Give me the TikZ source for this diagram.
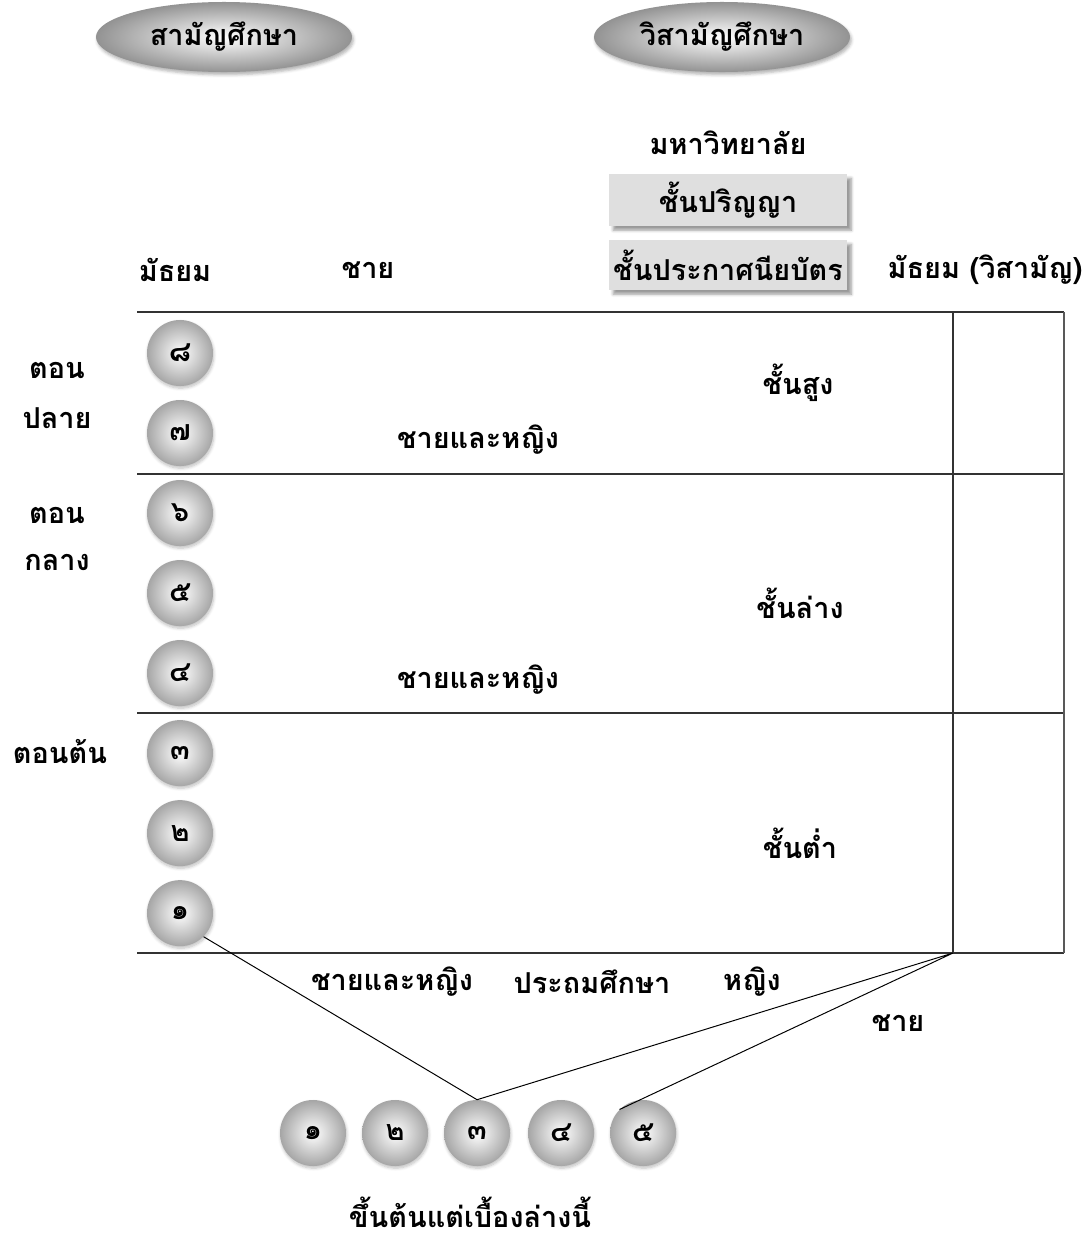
\documentclass[tikz,border=0pt]{standalone}
\usepackage{fontspec}
\setmainfont[Script=Thai]{Loma}
\usepackage{tikz}
\usetikzlibrary{positioning, shapes.geometric, shadows.blur}

\begin{document}
\begin{tikzpicture} [
	x=0.025cm, y=-0.025cm, % one unit is one pixel of the drawing
	node distance=2cm, % centre to centre distance of the year balls
	every node/.style={font=\fontsize{20.5}{24}\selectfont\bfseries},
	ball/.style={circle, minimum size=1.65cm, inner sep=0pt, shading=radial,
		inner color=white, outer color=gray!70,
		blur shadow={shadow xshift=0.5pt, shadow yshift=-1.5pt, shadow blur steps=6, shadow opacity=25}}, % the numbered balls
	oval/.style={ellipse, minimum width=6.4cm, minimum height=1.75cm, inner sep=0pt,
		shading=radial, inner color=white, outer color=gray!85,
		blur shadow={shadow xshift=1pt, shadow yshift=-2pt, shadow opacity=30}}, % the two heads
	grade/.style={fill=gray!25, minimum width=5.95cm, minimum height=1.3cm, inner sep=0pt,
		blur shadow={shadow xshift=3pt, shadow yshift=-3pt, shadow opacity=40}}, % the grey boxes
	rule/.style={draw=black!80, line width=0.8pt}, % lines of the table
	]
	\useasboundingbox (0,0) rectangle (1090,1244);

	% heads
	\node[oval] (general) at (224,37) {สามัญศึกษา};
	\node[oval] (special) at (722,37) {วิสามัญศึกษา};
	\node (univ) at (728,143) {มหาวิทยาลัย};
	\node[grade] (degree) at (728,200) {ชั้นปริญญา};
	\node[grade, minimum height=1.25cm] (cert) at (728,265) {ชั้นประกาศนียบัตร};

	\node (secondary) at (175,270) {มัธยม};
	\node (boys) at (368,270) {ชาย};
	\node (vocational) at (985,270) {มัธยม (วิสามัญ)};

	% table
	\draw[rule] (137,312) -- (1064,312);
	\draw[rule] (137,474) -- (1064,474);
	\draw[rule] (137,713) -- (1064,713);
	\draw[rule] (137,953) -- (1064,953);
	\draw[rule] (953,312) -- (953,953);
	\draw[draw=black!65, line width=1.3pt] (1064,312) -- (1064,953);
	\coordinate (corner) at (953,953);

	% secondary years
	\node[ball] (m8) at (180,353) {๘};
	\node[ball, below of=m8] (m7) {๗};
	\node[ball, below of=m7] (m6) {๖};
	\node[ball, below of=m6] (m5) {๕};
	\node[ball, below of=m5] (m4) {๔};
	\node[ball, below of=m4] (m3) {๓};
	\node[ball, below of=m3] (m2) {๒};
	\node[ball, below of=m2] (m1) {๑};

	\node (late1) at (57,370) {ตอน};
	\node (late2) at (57,418) {ปลาย};
	\node (mid1) at (57,515) {ตอน};
	\node (mid2) at (57,562) {กลาง};
	\node (early) at (60,752) {ตอนต้น};

	\node (high) at (798,383) {ชั้นสูง};
	\node (mixed1) at (478,440) {ชายและหญิง};
	\node (low) at (800,603) {ชั้นล่าง};
	\node (mixed2) at (478,680) {ชายและหญิง};
	\node (lowest) at (800,843) {ชั้นต่ำ};

	% primary
	\node (mixed3) at (392,982) {ชายและหญิง};
	\node (primary) at (592,982) {ประถมศึกษา};
	\node (girls) at (752,982) {หญิง};
	\node (boys2) at (898,1023) {ชาย};

	\node[ball] (p1) at (313,1133) {๑};
	\node[ball, right of=p1, node distance=2.05cm] (p2) {๒};
	\node[ball, right of=p2, node distance=2.05cm] (p3) {๓};
	\node[ball, right of=p3, node distance=2.1cm] (p4) {๔};
	\node[ball, right of=p4, node distance=2.05cm] (p5) {๕};

	\node (start) at (470,1212) {ขึ้นต้นแต่เบื้องล่างนี้};

	\draw[line width=0.7pt]
		(m1.south east) -- (p3.north)
		(p3.north) -- (corner)
		(corner) -- (p5.north west)
	;
\end{tikzpicture}
\end{document}
